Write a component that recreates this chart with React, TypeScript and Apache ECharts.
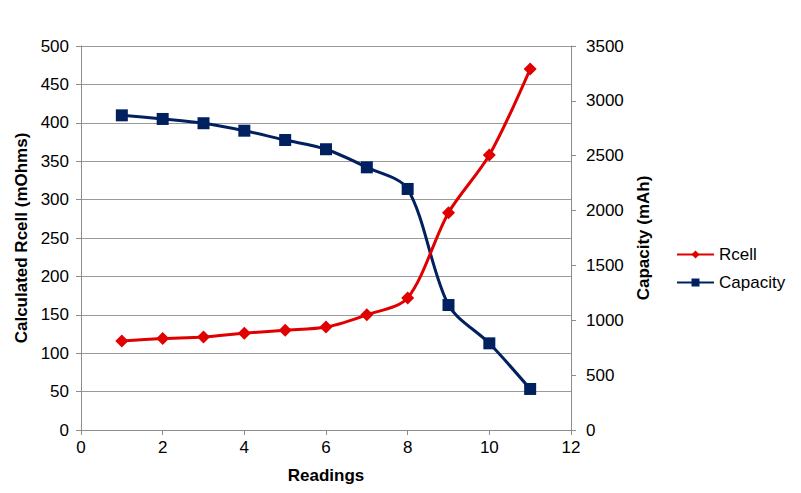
import React, { useEffect, useRef } from "react";
import * as echarts from "echarts";

const readings = [1, 2, 3, 4, 5, 6, 7, 8, 9, 10, 11];
const rcell = [116, 119, 121, 126, 130, 134, 150, 172, 283, 358, 470];
const capacity = [2868, 2835, 2796, 2728, 2643, 2559, 2394, 2197, 1139, 790, 374];

const FONT = "Liberation Sans, Arial, sans-serif";

export default function App() {
  const ref = useRef<HTMLDivElement>(null);
  useEffect(() => {
    const chart = echarts.init(ref.current!, null, { renderer: "svg" });
    const axisLine = { show: true, lineStyle: { color: "#8c8c8c", width: 1 } };
    const axisTick = { show: true, inside: false, length: 5, lineStyle: { color: "#8c8c8c" } };
    const labelFmt = (v: number) => String(v);
    chart.setOption({
      animation: false,
      backgroundColor: "#ffffff",
      textStyle: { fontFamily: FONT },
      grid: { left: 81, right: 230, top: 46, bottom: 63, containLabel: false },
      legend: {
        orient: "vertical",
        left: 671,
        top: 241,
        itemWidth: 37,
        itemHeight: 10,
        itemGap: 11,
        textStyle: { fontFamily: FONT, fontSize: 17, color: "#000" },
        data: ["Rcell", "Capacity"],
      },
      xAxis: {
        type: "value",
        min: 0,
        max: 12,
        interval: 2,
        name: "Readings",
        nameLocation: "middle",
        nameGap: 37,
        nameTextStyle: { fontFamily: FONT, fontSize: 17, fontWeight: "bold", color: "#000" },
        axisLine,
        axisTick,
        splitLine: { show: false },
        axisLabel: { fontFamily: FONT, fontSize: 17, color: "#000", margin: 9, formatter: labelFmt },
      },
      yAxis: [
        {
          type: "value",
          min: 0,
          max: 500,
          interval: 50,
          position: "left",
          name: "Calculated Rcell (mOhms)",
          nameLocation: "middle",
          nameRotate: 90,
          nameGap: 51,
          nameTextStyle: { fontFamily: FONT, fontSize: 17, fontWeight: "bold", color: "#000" },
          axisLine,
          axisTick,
          splitLine: { show: true, lineStyle: { color: "#9a9a9a", width: 1 } },
          axisLabel: { fontFamily: FONT, fontSize: 17, color: "#000", margin: 12, formatter: labelFmt },
        },
        {
          type: "value",
          min: 0,
          max: 3500,
          interval: 500,
          position: "right",
          name: "Capacity (mAh)",
          nameLocation: "middle",
          nameRotate: 90,
          nameGap: 59,
          nameTextStyle: { fontFamily: FONT, fontSize: 17, fontWeight: "bold", color: "#000" },
          axisLine,
          axisTick,
          splitLine: { show: false },
          axisLabel: { fontFamily: FONT, fontSize: 17, color: "#000", margin: 15, formatter: labelFmt },
        },
      ],
      series: [
        {
          name: "Rcell",
          type: "line",
          yAxisIndex: 0,
          smooth: 0.3,
          data: readings.map((r, i) => [r, rcell[i]]),
          symbol: "diamond",
          symbolSize: 13,
          lineStyle: { color: "#e00000", width: 3 },
          itemStyle: { color: "#e00000" },
          z: 3,
        },
        {
          name: "Capacity",
          type: "line",
          yAxisIndex: 1,
          smooth: 0.3,
          data: readings.map((r, i) => [r, capacity[i]]),
          symbol: "rect",
          symbolSize: 12,
          lineStyle: { color: "#002060", width: 3 },
          itemStyle: { color: "#002060" },
          z: 2,
        },
      ],
    });
    return () => chart.dispose();
  }, []);
  return <div ref={ref} style={{ width: 801, height: 493, position: "absolute", left: 0, top: 0 }} />;
}
